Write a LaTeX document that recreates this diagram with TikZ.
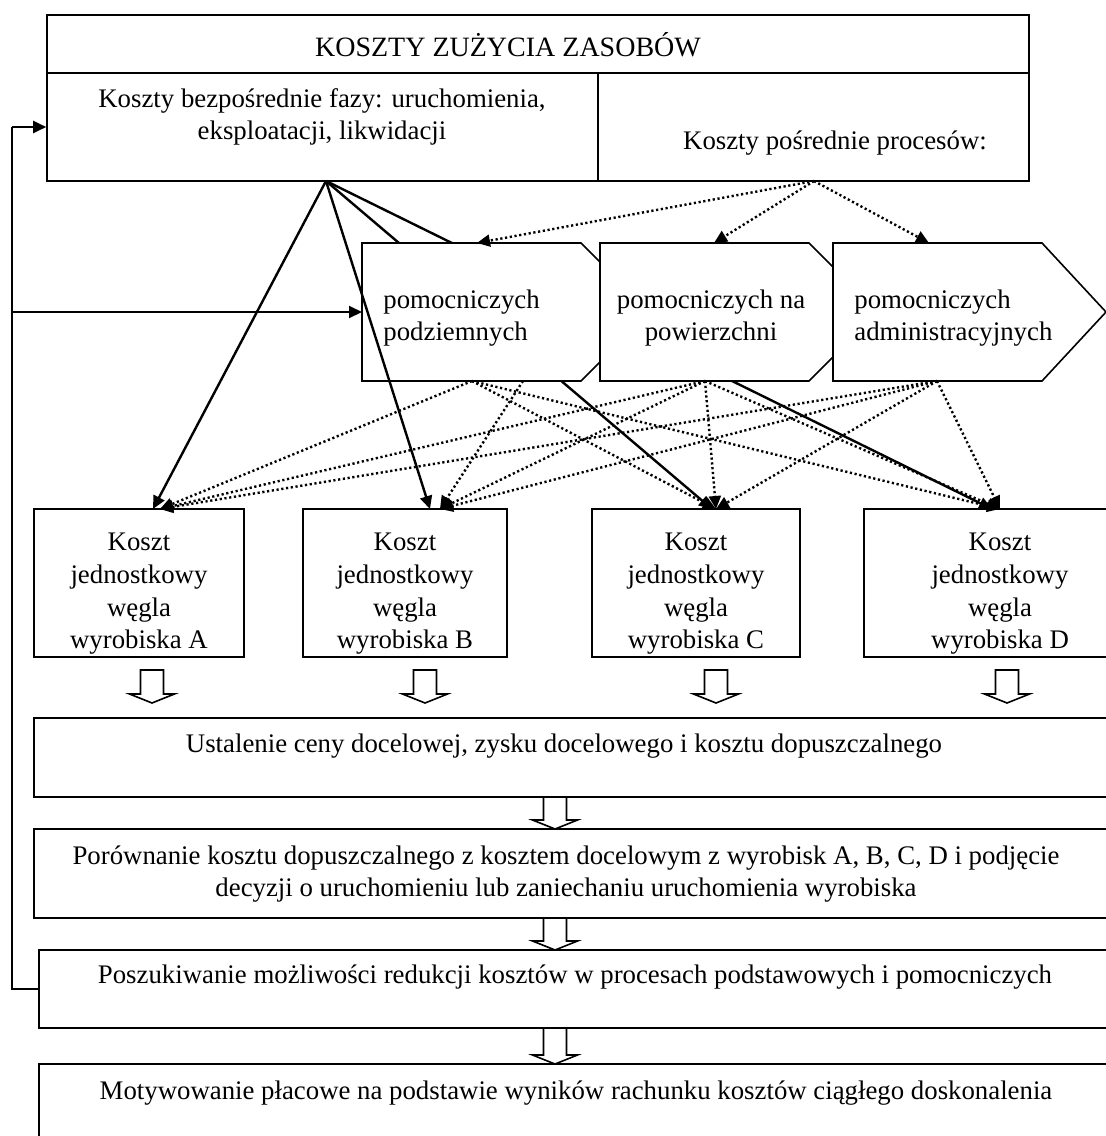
\documentclass[tikz,border=0pt]{standalone}
\usepackage{fontspec}
\setmainfont{Liberation Serif}
\usetikzlibrary{arrows.meta}
\newcommand{\blockdown}[3]{\draw[hollow] ({#1-11.5},#2) -- ({#1+11.5},#2) -- ({#1+11.5},{#3-9}) -- ({#1+22.5},{#3-9}) -- (#1,#3) -- ({#1-22.5},{#3-9}) -- ({#1-11.5},{#3-9}) -- cycle;}
\begin{document}
\begin{tikzpicture}[x=0.5pt,y=-0.5pt,
  every node/.style={font=\fontsize{13.4pt}{16.3pt}\selectfont, inner sep=0pt},
  box/.style={draw, line width=0.8pt, fill=white},
  txt/.style={align=center},
  ltxt/.style={align=left, anchor=west},
  solidarr/.style={line width=1.2pt, -{Triangle[length=6.5pt,width=6pt]}},
  dotarr/.style={line width=1.2pt, dash pattern=on 1.1pt off 1.3pt, -{Triangle[length=6.5pt,width=6pt]}},
  hollow/.style={draw, line width=0.8pt, fill=white},
  fb/.style={line width=0.8pt},
  fbarr/.style={line width=1pt, -{Triangle[length=6.5pt,width=6pt]}},
]
\useasboundingbox[fill=white] (0,0) rectangle (1106,1136);

% top block
\node[box, minimum width=491pt, minimum height=29pt] (top) at (538,44) {};
\node[font=\fontsize{14pt}{16.3pt}\selectfont] (toptxt) at (508,45) {KOSZTY ZUŻYCIA ZASOBÓW};
\node[box, minimum width=275.5pt, minimum height=54pt] (direct) at (322.5,127) {};
\node[txt] (directtxt) at (322,117) {Koszty bezpośrednie fazy: uruchomienia,\\eksploatacji, likwidacji};
\node[box, minimum width=215.5pt, minimum height=54pt] (indirect) at (813.5,127) {};
\node (indirecttxt) at (835,143) {Koszty pośrednie procesów:};

% named points
\coordinate (dsrc) at (326,181);
\coordinate (isrc) at (814,181);
\coordinate (t1) at (477,243);
\coordinate (t2) at (714,243);
\coordinate (t3) at (929,243);
\coordinate (p1a) at (472,381);
\coordinate (p1b) at (523,381);
\coordinate (p2s) at (705,381);
\coordinate (p3s) at (937,381);
\coordinate (sA) at (153,509);
\coordinate (sB) at (430,509);
\coordinate (sC) at (712,509);
\coordinate (sD) at (992,509);
\coordinate (dA) at (160,509);
\coordinate (dB) at (440,509);
\coordinate (dC) at (716,509);
\coordinate (dD) at (1000,509);

% solid arrows hidden behind the process shapes
\draw[solidarr] (dsrc) -- (sC);
\draw[solidarr] (dsrc) -- (sD);

% process shapes
\draw[box] (362,243) -- (581,243) -- (650,312) -- (581,381) -- (362,381) -- cycle;
\draw[box] (600,243) -- (809,243) -- (878,312) -- (809,381) -- (600,381) -- cycle;
\draw[box] (833,243) -- (1042,243) -- (1106,312) -- (1042,381) -- (833,381) -- cycle;
\node[ltxt] (p1) at (383,318) {pomocniczych\\podziemnych};
\node[txt] (p2) at (711,318) {pomocniczych na\\powierzchni};
\node[ltxt] (p3) at (854,318) {pomocniczych\\administracyjnych};

% solid arrows over shape 1
\draw[solidarr] (dsrc) -- (sA);
\draw[solidarr] (dsrc) -- (sB);

% dotted arrows from indirect costs
\draw[dotarr] (isrc) -- (t1);
\draw[dotarr] (isrc) -- (t2);
\draw[dotarr] (isrc) -- (t3);

% unit cost boxes
\node[box, minimum width=105pt, minimum height=74pt] (kA) at (139,583) {};
\node[box, minimum width=102pt, minimum height=74pt] (kB) at (405,583) {};
\node[box, minimum width=104pt, minimum height=74pt] (kC) at (696,583) {};
\node[box, minimum width=136pt, minimum height=74pt] (kD) at (1000,583) {};
\node[txt] (kAt) at (139,594) {Koszt\\jednostkowy\\węgla\\wyrobiska A};
\node[txt] (kBt) at (405,594) {Koszt\\jednostkowy\\węgla\\wyrobiska B};
\node[txt] (kCt) at (696,594) {Koszt\\jednostkowy\\węgla\\wyrobiska C};
\node[txt] (kDt) at (1000,594) {Koszt\\jednostkowy\\węgla\\wyrobiska D};

% dotted arrows from support processes
\draw[dotarr] (p1a) -- (dA);
\draw[dotarr] (p1b) -- (dB);
\draw[dotarr] (p1a) -- (dC);
\draw[dotarr] (p1a) -- (dD);
\draw[dotarr] (p2s) -- (dA);
\draw[dotarr] (p2s) -- (dB);
\draw[dotarr] (p2s) -- (dC);
\draw[dotarr] (p2s) -- (dD);
\draw[dotarr] (p3s) -- (dA);
\draw[dotarr] (p3s) -- (dB);
\draw[dotarr] (p3s) -- (dC);
\draw[dotarr] (p3s) -- (dD);

% lower stack
\node[box, minimum width=539pt, minimum height=39.5pt] (s1) at (573,757.5) {};
\node (s1t) at (564,746) {Ustalenie ceny docelowej, zysku docelowego i kosztu dopuszczalnego};
\node[box, minimum width=539pt, minimum height=44.5pt] (s2) at (573,873.5) {};
\node[txt] (s2t) at (566,874) {Porównanie kosztu dopuszczalnego z kosztem docelowym z wyrobisk A, B, C, D i podjęcie\\decyzji o uruchomieniu lub zaniechaniu uruchomienia wyrobiska};
\node[box, minimum width=536.5pt, minimum height=39pt] (s3) at (575.5,989) {};
\node (s3t) at (575,977) {Poszukiwanie możliwości redukcji kosztów w procesach podstawowych i pomocniczych};
\node[box, minimum width=536.5pt, minimum height=43pt] (s4) at (575.5,1107) {};
\node (s4t) at (576,1093) {Motywowanie płacowe na podstawie wyników rachunku kosztów ciągłego doskonalenia};

% hollow block arrows
\blockdown{152}{670}{703}
\blockdown{425}{670}{703}
\blockdown{716}{670}{703}
\blockdown{1007}{670}{703}
\blockdown{555}{797}{829}
\blockdown{555}{918}{950}
\blockdown{555}{1028}{1064}

% feedback loop
\coordinate (fbbot) at (12,989);
\coordinate (fbtop) at (12,127);
\coordinate (fbmid) at (12,312);
\coordinate (p1in) at (362,312);
\draw[fb] (s3.west) -- (fbbot) -- (fbtop);
\draw[fbarr] (fbtop) -- (direct.west);
\draw[fbarr] (fbmid) -- (p1in);
\end{tikzpicture}
\end{document}
